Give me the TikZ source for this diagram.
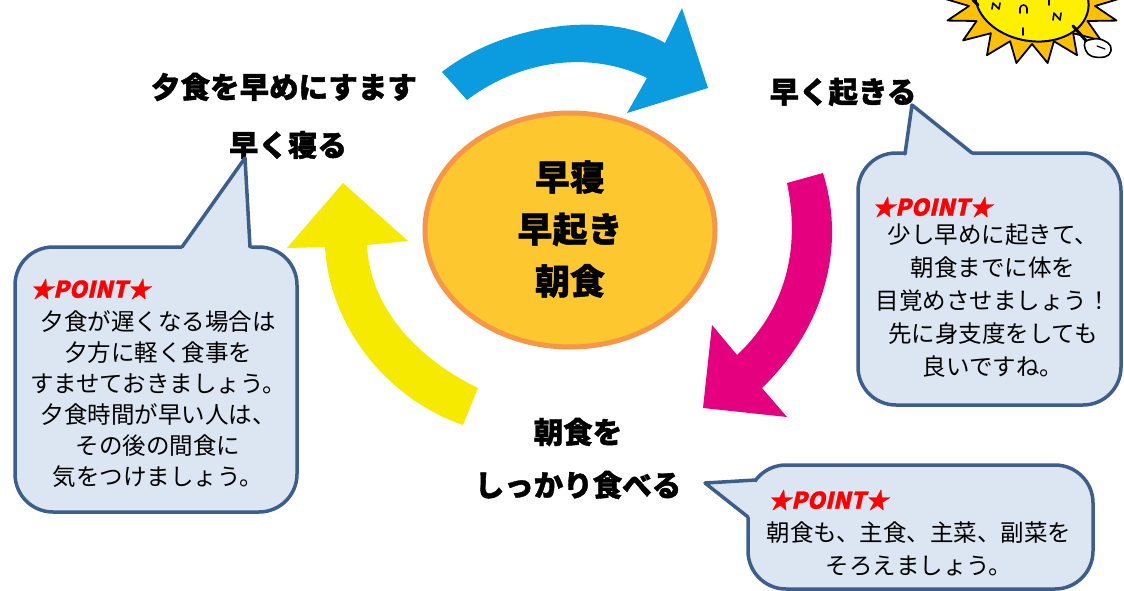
\documentclass[tikz,border=0pt]{standalone}
\usepackage{fontspec}
\newfontfamily\jp{Noto Sans CJK JP}
\newfontfamily\jpheavy{Noto Sans CJK JP}[BoldFeatures={FakeBold=1.3}]
\newfontfamily\jpslant{Noto Sans CJK JP}[FakeSlant=0.22,BoldFeatures={FakeSlant=0.22,FakeBold=1.2}]
\definecolor{cycleblue}{HTML}{0A9CDE}
\definecolor{cyclepink}{HTML}{E4007F}
\definecolor{cycleyellow}{HTML}{F6EA00}
\definecolor{hubfill}{HTML}{FDC82F}
\definecolor{hubline}{HTML}{F79646}
\definecolor{bubblefill}{HTML}{DCE6F2}
\definecolor{bubbleline}{HTML}{3B5E8C}
\definecolor{pointred}{HTML}{FF0000}
\definecolor{sunorange}{HTML}{FFC000}
\definecolor{sunface}{HTML}{FFF000}
\begin{document}
\begin{tikzpicture}[x=1pt,y=-1pt,
  head/.style={font=\jpheavy\bfseries\fontsize{29.5}{29.5}\selectfont, inner sep=0pt},
  hub/.style={font=\jpheavy\bfseries\fontsize{35}{52}\selectfont, align=center, inner sep=0pt},
  note/.style={font=\jp\fontsize{23.5}{31}\selectfont, align=center, inner sep=0pt},
  pointmark/.style={font=\jpslant\bfseries\fontsize{23}{23}\selectfont, text=pointred, anchor=west, inner sep=0pt},
  bubble/.style={fill=bubblefill, draw=bubbleline, line width=3.5pt, rounded corners=38pt},
  tailedge/.style={draw=bubbleline, line width=3.5pt, line join=round, line cap=round},
  ink/.style={draw=black, line width=1.6pt, line cap=round, line join=round}]
\useasboundingbox (0,0) rectangle (1124,591);
\fill[white] (0,0) rectangle (1124,591);

% sun mascot peeking in at the top right
\begin{scope}
\clip (0,0) rectangle (1124,591);
\filldraw[fill=sunorange, draw=black, line width=1.8pt, line join=round]
  plot[variable=\t, samples at={0,10,...,350}]
  ({1032+(mod(\t,20)==0 ? 90 : 64)*cos(\t)}, {-2+(mod(\t,20)==0 ? 66 : 46)*sin(\t)}) -- cycle;
\filldraw[fill=sunface, draw=black, line width=2pt] (1032,0) ellipse [x radius=57, y radius=41, rotate=-10];
\draw[ink] (992,9) -- (993,3) -- (999,9) -- (1000,3);
\draw[ink] (1020,13) -- (1020,8) .. controls (1021,4) and (1026,4) .. (1027,8) -- (1027,13);
\draw[ink] (1049,0) -- (1049,5);
\draw[ink] (1053,20) -- (1054,13) -- (1060,20) -- (1061,13);
\draw[ink] (1023,28) -- (1023,35);
\draw[black, line width=3pt, line cap=round] (973,0) -- (978,5);
\draw[black, line width=3pt, line cap=round] (1073,26) -- (1088,43);
\filldraw[fill=white, draw=black, line width=1.6pt, rounded corners=5pt]
  (1083,41) -- (1099,38) -- (1112,45) -- (1110,56) -- (1098,58) -- (1087,55) -- cycle;
\draw[ink, line width=1.2pt] (1097,46) -- (1105,49);
\end{scope}

% cycle arrows
\fill[cycleblue] (442,72) .. controls (500,26) and (605,8) .. (665,43)
  -- (682,8) -- (708,88) -- (627,113) -- (647,78)
  .. controls (590,50) and (520,60) .. (467,100) -- cycle;
\fill[cyclepink] (787,183) -- (823,173) .. controls (847,250) and (822,330) .. (762,388)
  -- (787,417) -- (703,408) -- (712,325) -- (737,355)
  .. controls (785,310) and (801,250) .. (787,183) -- cycle;
\fill[cycleyellow] (463,425) .. controls (390,400) and (330,330) .. (325,247)
  -- (287,248) -- (343,183) -- (408,241) -- (367,245)
  .. controls (370,310) and (420,360) .. (478,388) -- cycle;

% hub
\draw[fill=hubfill, draw=hubline, line width=5pt] (570,230) ellipse [x radius=145, y radius=117];
\node[hub] (hub) at (570,229) {早寝\\早起き\\朝食};

% step labels
\node[head] (dinner) at (284,87) {夕食を早めにすます};
\node[head] (sleep) at (288,145) {早く寝る};
\node[head] (wake) at (843,92) {早く起きる};
\node[head] (meal1) at (578,432) {朝食を};
\node[head] (meal2) at (578,485) {しっかり食べる};

% left bubble
\draw[bubble] (15,247) rectangle (297,512);
\fill[bubblefill] (182,247) -- (245,158) -- (251,248) -- (251,253) -- (182,253) -- cycle;
\draw[tailedge] (182,247) -- (245,158) -- (250,247);
\node[pointmark] (pointL) at (30,289) {★POINT★};
\node[note] (noteL) at (158,399) {夕食が遅くなる場合は\\夕方に軽く食事を\\すませておきましょう。\\夕食時間が早い人は、\\その後の間食に\\気をつけましょう。};

% right bubble
\draw[bubble] (858,153) rectangle (1121,405);
\fill[bubblefill] (905,154) -- (912,105) -- (972,153) -- (972,158) -- (905,158) -- cycle;
\draw[tailedge] (905,154) -- (912,105) -- (972,153);
\node[pointmark] (pointR) at (872,207) {★POINT★};
\node[note, font=\jp\fontsize{23.5}{33}\selectfont] (noteR) at (993,301) {少し早めに起きて、\\朝食までに体を\\目覚めさせましょう！\\先に身支度をしても\\良いですね。};

% bottom bubble
\draw[bubble] (748,465) rectangle (1093,589);
\fill[bubblefill] (756,480) -- (705,483) -- (748,517) -- (756,517) -- cycle;
\draw[tailedge] (756,480) -- (705,483) -- (748,517);
\node[pointmark] (pointB) at (768,500) {★POINT★};
\node[note, font=\jp\fontsize{23.5}{33}\selectfont] (noteB) at (919,549) {朝食も、主食、主菜、副菜を\\そろえましょう。};
\end{tikzpicture}
\end{document}
